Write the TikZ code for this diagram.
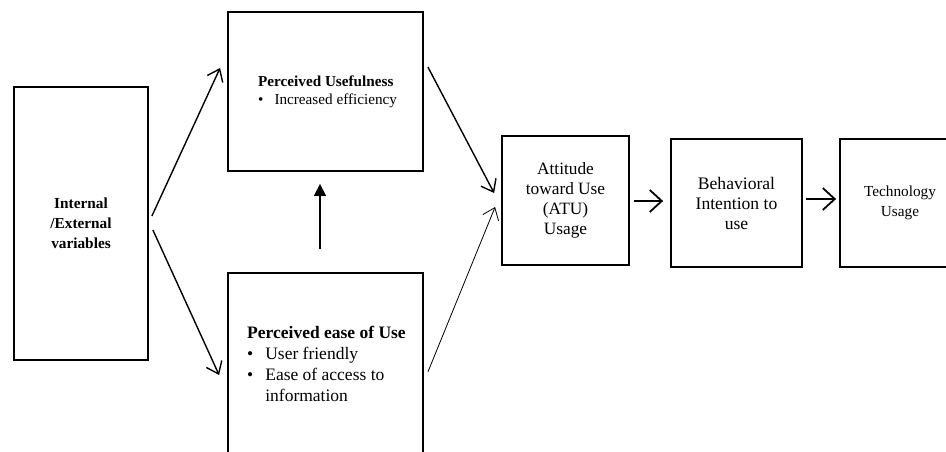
\documentclass[tikz,border=0pt]{standalone}
\usepackage{fontspec}
\setmainfont{Liberation Serif}
\usetikzlibrary{arrows.meta,calc}
\begin{document}
\begin{tikzpicture}[x=1pt,y=-1pt,
  box/.style={draw, line width=1.8pt, inner sep=0pt, align=center},
  arr/.style={line width=1.4pt, -{Straight Barb[length=11pt,width=17pt]}},
  thinarr/.style={line width=0.8pt, -{Straight Barb[length=11pt,width=17pt]}},
  bigarr/.style={line width=1.8pt, -{Straight Barb[length=12pt,width=22pt]}},
  triarr/.style={line width=1.4pt, -{Triangle[length=12pt,width=12pt]}}]
\useasboundingbox (0,0) rectangle (946,452);
\clip (0,0) rectangle (946,452);

\node[box, minimum width=134pt, minimum height=273pt,
      font=\fontsize{15.3}{20}\selectfont\bfseries] (ie) at (81,223.5)
      {Internal\\/External\\variables};
\node[box, minimum width=195pt, minimum height=159pt] (pu) at (325.5,91.5) {};
\node[box, minimum width=195pt, minimum height=200pt] (peou) at (325.5,373) {};
\node[box, minimum width=127pt, minimum height=129pt,
      font=\fontsize{17.3}{20}\selectfont] (atu) at (565.5,200.5)
      {Attitude\\toward Use\\(ATU)\\Usage};
\node[box, minimum width=131pt, minimum height=128pt,
      font=\fontsize{17.6}{20}\selectfont] (bi) at (736.5,203)
      {Behavioral\\Intention to\\use};
\node[box, minimum width=120pt, minimum height=128pt,
      font=\fontsize{15.3}{20}\selectfont] (tu) at (900,203)
      {Technology\\Usage};

\node[anchor=base west, inner sep=0pt, font=\fontsize{15.2}{17.5}\selectfont] (putext) at (258,87)
  {\begin{tabular}[t]{@{}l@{\hspace{11pt}}l@{}}
   \multicolumn{2}{@{}l@{}}{\textbf{Perceived Usefulness}}\\
   \textbullet & Increased efficiency
   \end{tabular}};
\node[anchor=base west, inner sep=0pt, font=\fontsize{17.5}{21.3}\selectfont] (peoutext) at (247,338)
  {\begin{tabular}[t]{@{}l@{\hspace{12pt}}l@{}}
   \multicolumn{2}{@{}l@{}}{\textbf{Perceived ease of Use}}\\
   \textbullet & User friendly\\
   \textbullet & Ease of access to\\
    & information
   \end{tabular}};

\draw[arr] ($(ie.east)+(3,-7.5)$) -- ($(pu.west)+(-7,-23.5)$);
\draw[arr] ($(ie.east)+(4,6.5)$) -- ($(peou.west)+(-8,2)$);
\draw[arr] ($(pu.east)+(4,-24.5)$) -- ($(atu.west)+(-7,-7.5)$);
\draw[thinarr] ($(peou.east)+(4,-1)$) -- ($(atu.west)+(-6,6.5)$);
\draw[triarr] ($(peou.north)+(-5.5,-23)$) -- ($(pu.south)+(-5.5,12)$);
\draw[bigarr] ($(atu.east)+(4,0.5)$) -- ($(bi.west)+(-7,-2)$);
\draw[bigarr] ($(bi.east)+(3,-4)$) -- ($(tu.west)+(-3,-4)$);
\end{tikzpicture}
\end{document}
